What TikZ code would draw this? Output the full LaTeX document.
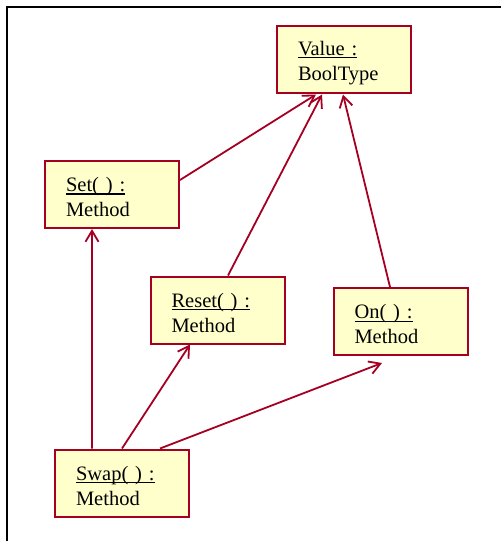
\documentclass[tikz,border=0pt]{standalone}
\usepackage{fontspec}
\setmainfont{Liberation Serif}
\usepackage{xcolor}
\usetikzlibrary{arrows.meta}
\definecolor{umlred}{HTML}{A50021}
\definecolor{umlfill}{HTML}{FFFFCC}
\newcommand\objname[1]{\setbox0\hbox{#1}\rlap{\rule[-3bp]{\wd0}{1.4bp}}\rule{0pt}{20bp}\box0}

\begin{document}
\begin{tikzpicture}[x=1bp,y=-1bp,
  obj/.style={draw=umlred,fill=umlfill,line width=2bp,text width=92bp,inner xsep=21bp,inner ysep=0pt,
    minimum height=67bp,align=left,font=\fontsize{20.5bp}{25bp}\selectfont},
  link/.style={umlred,line width=1.8bp,-{Straight Barb[length=11bp,width=13bp,line width=1.8bp]}}]
\useasboundingbox (0,0) rectangle (501,541);
\draw[line width=2bp] (7,541) -- (7,7) -- (501,7);

% objects
\node[obj] (value) at (344,60) {\objname{Value :}\\BoolType};
\node[obj] (set) at (112,194.5) {\objname{Set( ) :}\\Method};
\node[obj] (reset) at (217.5,310) {\objname{Reset( ) :}\\Method};
\node[obj] (on) at (400.5,321.5) {\objname{On( ) :}\\Method};
\node[obj] (swap) at (122,483) {\objname{Swap( ) :}\\Method};

% links
\draw[link] ([yshift=14.5bp]set.east) -- ([xshift=-28bp]value.south);
\draw[link] ([xshift=10.5bp]reset.north) -- ([xshift=-22bp]value.south);
\draw[link] ([xshift=-10.5bp]on.north) -- ([xshift=-1bp]value.south);
\draw[link] ([xshift=-30bp]swap.north) -- ([xshift=-20bp]set.south);
\draw[link] (swap.north) -- ([xshift=-27.5bp]reset.south);
\draw[link] ([xshift=38bp]swap.north) -- ([xshift=-18.5bp,yshift=-7bp]on.south);
\end{tikzpicture}
\end{document}
